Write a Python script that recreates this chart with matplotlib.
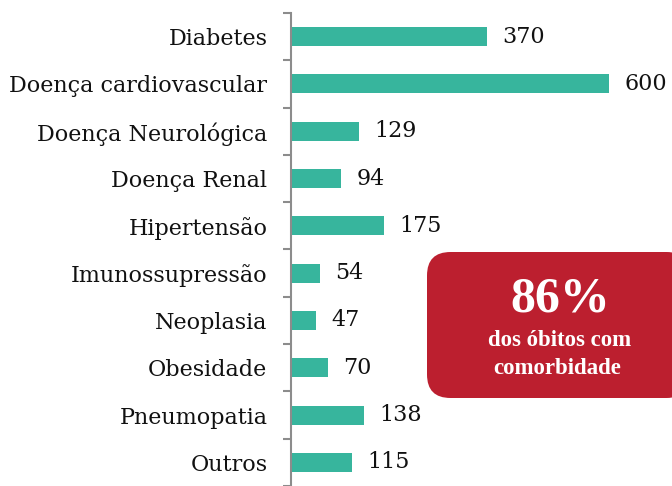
import matplotlib
matplotlib.use("Agg")
import matplotlib.pyplot as plt
from matplotlib.patches import FancyBboxPatch

categories = ["Diabetes", "Doença cardiovascular", "Doença Neurológica", "Doença Renal",
              "Hipertensão", "Imunossupressão", "Neoplasia", "Obesidade", "Pneumopatia", "Outros"]
values = [370, 600, 129, 94, 175, 54, 47, 70, 138, 115]
box_big = "86%"
box_line1 = "dos óbitos com"
box_line2 = "comorbidade"

W, H = 672, 486
fig = plt.figure(figsize=(W / 100, H / 100), dpi=100)
ax_left, ax_right, ax_top, ax_bottom = 291, 672, 13, 486
ax = fig.add_axes([ax_left / W, 1 - ax_bottom / H, (ax_right - ax_left) / W, (ax_bottom - ax_top) / H])

font = "DejaVu Serif"
box_font = "Liberation Serif"
bar_color = "#37B59D"
pos = list(range(len(categories)))
ax.barh(pos, values, height=0.4, color=bar_color)
ax.set_xlim(0, 719)
ax.set_ylim(9.31, -0.5)

ax.set_yticks([p for p in pos])
ax.set_yticklabels(categories, fontfamily=font, fontsize=16, color="#111111")
ax.tick_params(axis="y", which="major", length=0, pad=17)
ax.set_yticks([p - 0.5 for p in pos] + [len(pos) - 0.5], minor=True)
ax.tick_params(axis="y", which="minor", length=6, width=1.5, color="#8C8C8C", direction="out")
ax.set_xticks([])
for s in ["top", "right", "bottom"]:
    ax.spines[s].set_visible(False)
ax.spines["left"].set_color("#8C8C8C")
ax.spines["left"].set_linewidth(1.5)

for p, v in zip(pos, values):
    ax.text(v + 29, p, str(v), va="center", ha="left", fontfamily=font, fontsize=16, color="#111111")

# Red annotation box in figure pixels
bx0, by0, bx1, by1 = 427, 252, 690, 398
box = FancyBboxPatch((bx0 / W, 1 - by1 / H), (bx1 - bx0) / W, (by1 - by0) / H,
                     boxstyle="round,pad=0,rounding_size=0.035", transform=fig.transFigure,
                     facecolor="#BC1F2F", edgecolor="none", mutation_aspect=W / H, clip_on=False)
fig.patches.append(box)
fig.text(560 / W, 1 - 299 / H, box_big, ha="center", va="center", color="white",
         fontfamily=box_font, fontweight="bold", fontsize=36)
fig.text(560 / W, 1 - 341 / H, box_line1, ha="center", va="center", color="white",
         fontfamily=box_font, fontweight="bold", fontsize=16.5)
fig.text(557 / W, 1 - 368 / H, box_line2, ha="center", va="center", color="white",
         fontfamily=box_font, fontweight="bold", fontsize=16.5)

fig.savefig("out.png", dpi=100)
